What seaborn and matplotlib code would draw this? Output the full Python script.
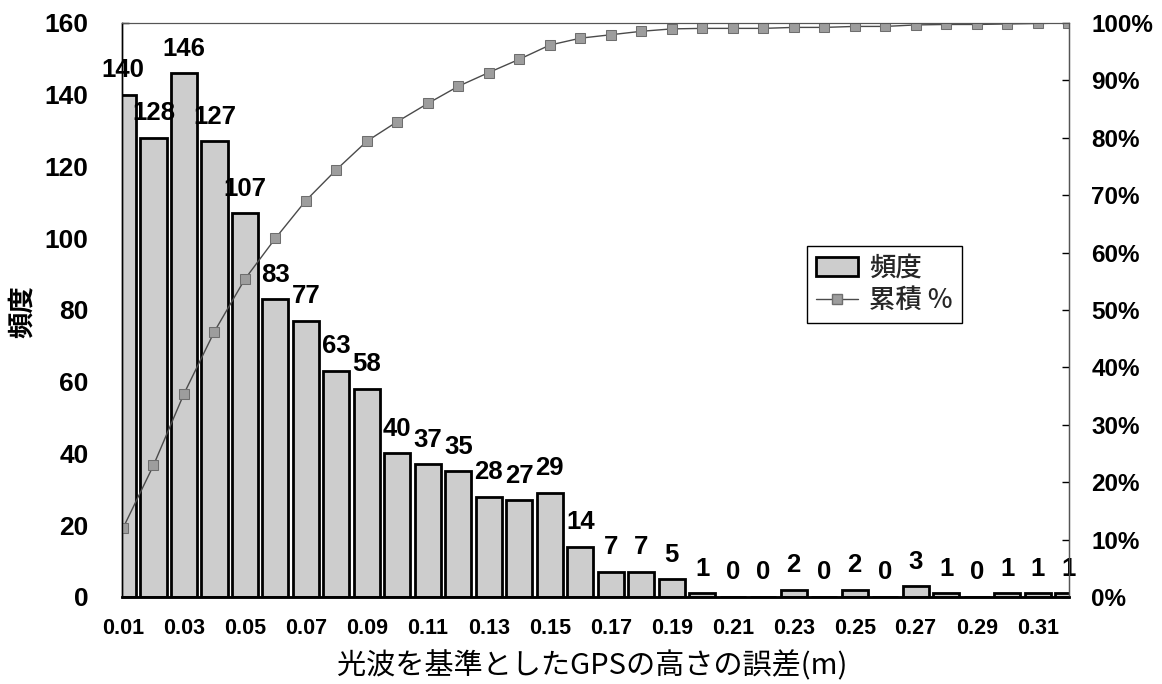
import numpy as np
import pandas as pd
import matplotlib
matplotlib.use("Agg")
import matplotlib.pyplot as plt
from matplotlib.patches import Patch
from matplotlib.lines import Line2D
from matplotlib.ticker import MultipleLocator, FuncFormatter
import seaborn as sns

# Height error of GPS relative to EDM (m), histogram bins
categories = ["0.01", "0.02", "0.03", "0.04", "0.05", "0.06", "0.07", "0.08",
              "0.09", "0.10", "0.11", "0.12", "0.13", "0.14", "0.15", "0.16",
              "0.17", "0.18", "0.19", "0.20", "0.21", "0.22", "0.23", "0.24",
              "0.25", "0.26", "0.27", "0.28", "0.29", "0.30", "0.31", "0.32"]
tick_labels = ["0.01", "0.03", "0.05", "0.07", "0.09", "0.11", "0.13", "0.15",
               "0.17", "0.19", "0.21", "0.23", "0.25", "0.27", "0.29", "0.31"]
frequency = [140, 128, 146, 127, 107, 83, 77, 63, 58, 40, 37, 35, 28, 27, 29, 14,
             7, 7, 5, 1, 0, 0, 2, 0, 2, 0, 3, 1, 0, 1, 1, 1]
cumulative_pct = [11.97, 22.91, 35.38, 46.24, 55.38, 62.48, 69.06, 74.44,
                  79.40, 82.82, 85.98, 88.97, 91.37, 93.68, 96.15, 97.35,
                  97.95, 98.55, 98.97, 99.06, 99.06, 99.06, 99.23, 99.23,
                  99.40, 99.40, 99.66, 99.74, 99.74, 99.83, 99.91, 100.0]

df = pd.DataFrame({"bin": categories, "freq": frequency,
                   "cum": np.array(cumulative_pct) / 100.0})

sns.set_theme(style="white")
plt.rcParams["font.family"] = ["Liberation Sans", "DejaVu Sans"]
jp = ["Noto Sans CJK JP", "DejaVu Sans"]

fig = plt.figure(figsize=(11.62, 6.84), dpi=100)
ax = fig.add_axes([0.105, 0.1272, 0.815, 0.8392])

bar_fill = "#cdcdcd"
sns.barplot(data=df, x="bin", y="freq", order=categories, ax=ax,
            color=bar_fill, edgecolor="black", linewidth=2.0, width=0.86,
            saturation=1.0)
ax.bar_label(ax.containers[0], labels=[str(v) for v in frequency],
             padding=9, fontsize=18.5, color="black", fontweight="bold")

ax.set_ylim(0, 160)
ax.yaxis.set_major_locator(MultipleLocator(20))
ax.set_xlim(-0.03, len(categories) - 1 + 0.03)
ax.set_xticks(range(0, len(categories), 2))
ax.set_xticklabels(tick_labels, fontweight="bold")
ax.set_xlabel("")
ax.set_ylabel("")
ax.tick_params(axis="x", direction="in", length=4, width=1, pad=15,
               labelsize=15.5, colors="black")
ax.tick_params(axis="y", direction="in", length=5, width=1, pad=24,
               labelsize=19, colors="black")
for t in ax.get_yticklabels():
    t.set_fontweight("bold")

# cumulative percentage on the secondary axis
ax2 = ax.twinx()
sns.pointplot(data=df, x="bin", y="cum", order=categories, ax=ax2,
              color="#4a4a4a", markers="s", linestyles="-",
              markersize=7.5, linewidth=1.0,
              markerfacecolor="#9d9d9d", markeredgecolor="#6e6e6e")
ax2.set_xlim(-0.03, len(categories) - 1 + 0.03)
ax2.set_ylim(0, 1.0)
ax2.yaxis.set_major_locator(MultipleLocator(0.1))
ax2.yaxis.set_major_formatter(FuncFormatter(lambda v, _: f"{v * 100:.0f}%"))
ax2.set_ylabel("")
ax2.set_xlabel("")
ax2.tick_params(axis="y", direction="in", length=5, width=1, pad=16,
                labelsize=17.5, colors="black")
for t in ax2.get_yticklabels():
    t.set_fontweight("bold")

for a in (ax, ax2):
    a.spines["top"].set_color("#555555")
    a.spines["top"].set_linewidth(0.8)
    a.spines["right"].set_color("#555555")
    a.spines["right"].set_linewidth(0.9)
    a.spines["left"].set_color("black")
    a.spines["left"].set_linewidth(1.0)
    a.spines["bottom"].set_color("black")
    a.spines["bottom"].set_linewidth(1.8)
    a.grid(False)

handles = [
    Patch(facecolor=bar_fill, edgecolor="black", linewidth=2.0, label="頻度"),
    Line2D([], [], color="#4a4a4a", linewidth=1.0, marker="s", markersize=7.5,
           markerfacecolor="#9d9d9d", markeredgecolor="#6e6e6e", label="累積 %"),
]
leg = ax2.legend(handles=handles, loc="upper left",
                 bbox_to_anchor=(0.723, 0.612), frameon=True, fancybox=False,
                 shadow=False, framealpha=1.0, edgecolor="black",
                 prop={"family": jp, "size": 19, "weight": "medium"},
                 handlelength=1.6, handleheight=0.75, handletextpad=0.4,
                 borderpad=0.35, labelspacing=0.2, borderaxespad=0)
leg.get_frame().set_linewidth(1.0)

fig.text(0.510, 0.026, "光波を基準としたGPSの高さの誤差(m)", ha="center",
         va="center", fontsize=21, family=jp, color="black")
fig.text(0.019, 0.545, "頻度", ha="center", va="center", rotation=90,
         fontsize=19, family=jp, color="black", fontweight="bold")

fig.savefig("out.png", dpi=100, facecolor="white")
